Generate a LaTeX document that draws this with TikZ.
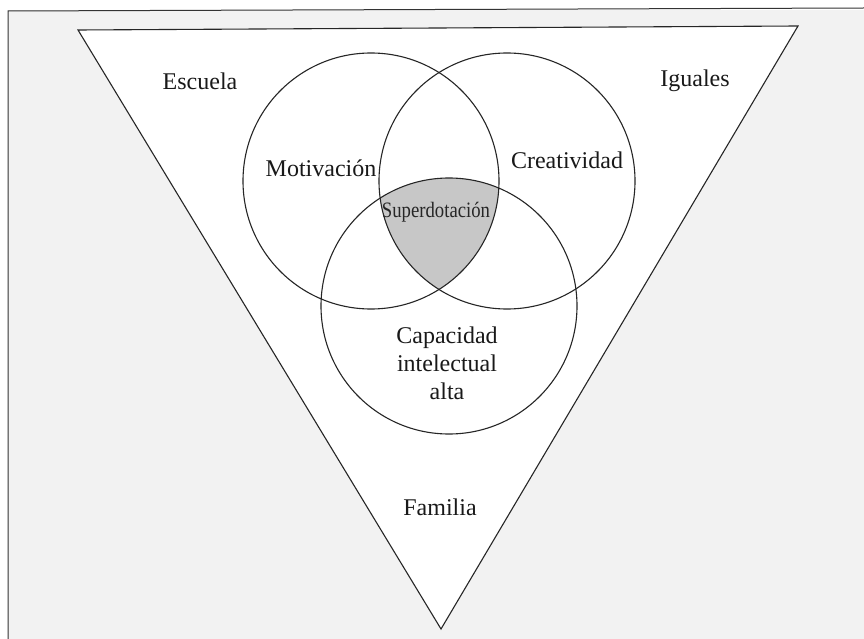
\documentclass[tikz,border=0pt]{standalone}
\usepackage{fontspec}
\setmainfont{Liberation Serif}
\begin{document}
\begin{tikzpicture}[x=1pt,y=-1pt,
  outline/.style={draw=black!85,line width=1.1pt},
  lbl/.style={font=\fontsize{24}{28}\selectfont,inner sep=0pt,anchor=base,text=black!90},
  multi/.style={font=\fontsize{24}{28}\selectfont,inner sep=0pt,anchor=center,align=center,text=black!90},
  small/.style={font=\fontsize{22}{26}\selectfont,inner sep=0pt,anchor=base,text=black!85,xscale=0.85},
]
\useasboundingbox (0,0) rectangle (864,639);
% page background and frame
\fill[black!5] (8,10) rectangle (864,639);
\draw[line width=1pt,black!80] (8,639) -- (8,11) -- (864,8);
% triangle corners
\coordinate (tl) at (78,30);
\coordinate (tr) at (798,26);
\coordinate (ap) at (441,629);
\fill[white] (tl) -- (tr) -- (ap) -- cycle;
% circle centres
\coordinate (cm) at (371,181);
\coordinate (cc) at (507,181);
\coordinate (ci) at (449,306);
% shared region of the three circles
\begin{scope}
  \clip (cm) circle[radius=128pt];
  \clip (cc) circle[radius=128pt];
  \fill[black!22] (ci) circle[radius=128pt];
\end{scope}
\draw[outline] (cm) circle[radius=128pt];
\draw[outline] (cc) circle[radius=128pt];
\draw[outline] (ci) circle[radius=128pt];
\draw[outline] (tl) -- (tr) -- (ap) -- cycle;
% labels
\node[lbl] (escuela) at (200,90) {Escuela};
\node[lbl] (iguales) at (695,87) {Iguales};
\node[lbl] (motiv) at (321,177) {Motivación};
\node[lbl] (creat) at (567,168) {Creatividad};
\node[small] (super) at (436,218) {Superdotación};
\node[multi] (capac) at (447,363) {Capacidad\\intelectual\\alta};
\node[lbl] (familia) at (440,515) {Familia};
\end{tikzpicture}
\end{document}
